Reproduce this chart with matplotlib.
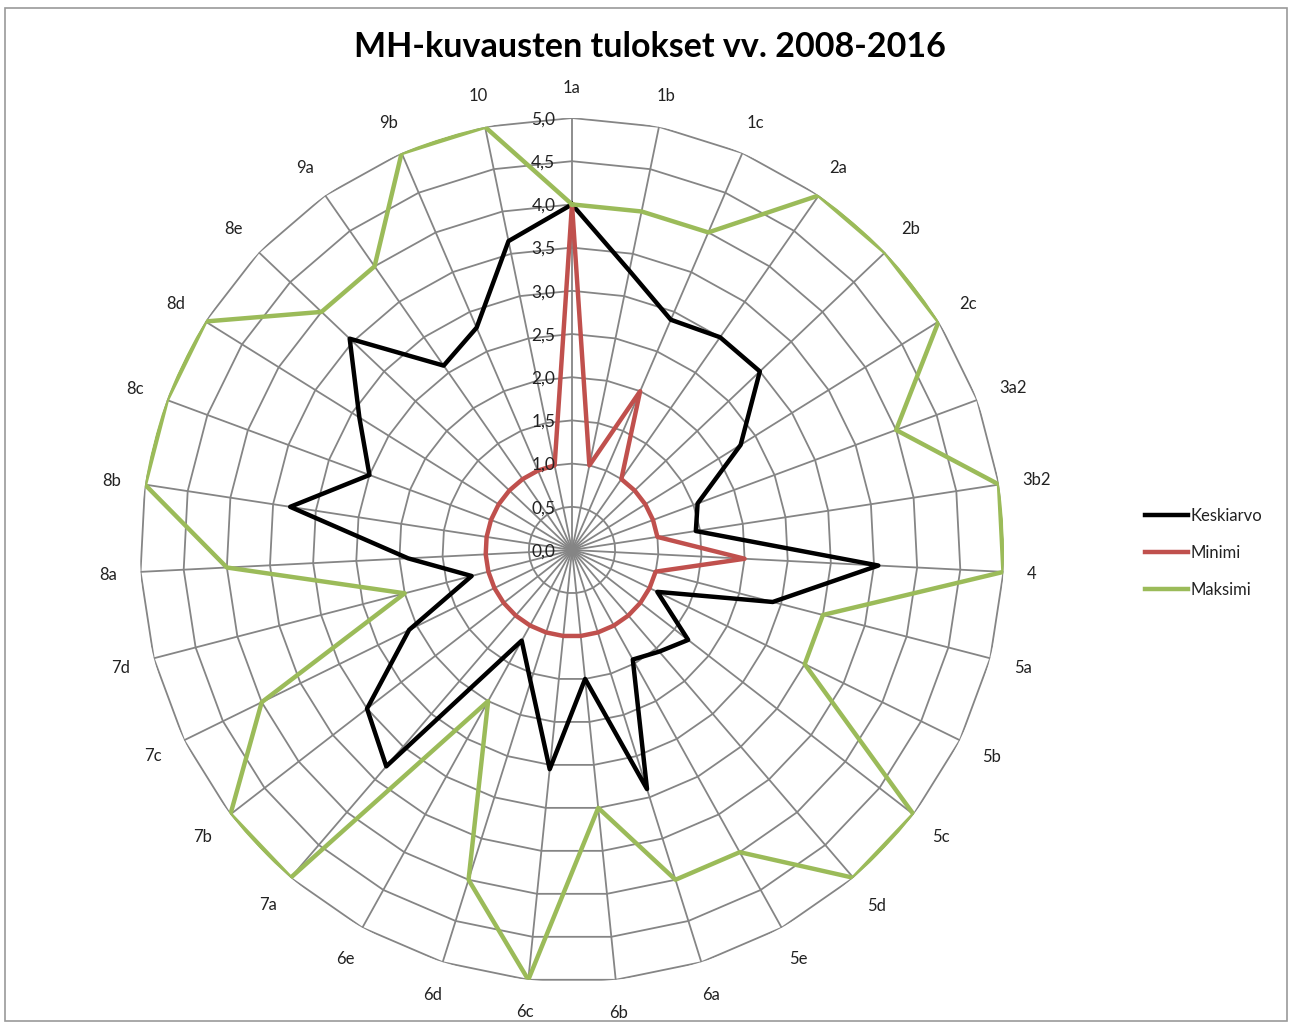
import numpy as np
import matplotlib
matplotlib.use("Agg")
import matplotlib.pyplot as plt
from matplotlib.patches import Rectangle

categories = ["1a", "1b", "1c", "2a", "2b", "2c", "3a2", "3b2", "4", "5a", "5b",
              "5c", "5d", "5e", "6a", "6b", "6c", "6d", "6e", "7a", "7b", "7c",
              "7d", "8a", "8b", "8c", "8d", "8e", "9a", "9b", "10"]
keskiarvo = [4.0, 3.3, 2.9, 3.0, 3.0, 2.3, 1.55, 1.45, 3.55, 2.4, 1.1,
             1.7, 1.55, 1.45, 2.9, 1.5, 2.55, 1.6, 1.2, 3.3, 3.0, 2.1,
             1.2, 1.9, 3.3, 2.5, 2.9, 3.55, 2.6, 2.8, 3.65]
minimi = [4.0, 1.0, 2.0, 1.0, 1.0, 1.0, 1.0, 1.0, 2.0, 1.0, 1.0,
          1.0, 1.0, 1.0, 1.0, 1.0, 1.0, 1.0, 1.0, 1.0, 1.0, 1.0,
          1.0, 1.0, 1.0, 1.0, 1.0, 1.0, 1.0, 1.0, 1.0]
maksimi = [4.0, 4.0, 4.0, 5.0, 5.0, 5.0, 4.0, 5.0, 5.0, 3.0, 3.0,
           5.0, 5.0, 4.0, 4.0, 3.0, 5.0, 4.0, 2.0, 5.0, 5.0, 4.0,
           2.0, 4.0, 5.0, 5.0, 5.0, 4.0, 4.0, 5.0, 5.0]
ring_values = [0.0, 0.5, 1.0, 1.5, 2.0, 2.5, 3.0, 3.5, 4.0, 4.5, 5.0]
ring_labels = ["0,0", "0,5", "1,0", "1,5", "2,0", "2,5", "3,0", "3,5", "4,0", "4,5", "5,0"]
title = "MH-kuvausten tulokset vv. 2008-2016"
series_names = ["Keskiarvo", "Minimi", "Maksimi"]
series_colors = ["#000000", "#C0504D", "#9BBB59"]

plt.rcParams['font.family'] = ['Lato', 'DejaVu Sans']

W, H = 1293, 1027
fig = plt.figure(figsize=(W / 100, H / 100), dpi=100)
fig.patch.set_facecolor("white")
fig.patches.append(Rectangle((5 / W, 6 / H), (W - 11) / W, (H - 14) / H,
                             transform=fig.transFigure, fill=False,
                             edgecolor="#9a9a9a", linewidth=1.2))

cx, cy, R = 572, 550, 432
ax = fig.add_axes([(cx - R) / W, (H - cy - R) / H, 2 * R / W, 2 * R / H],
                  projection="polar")
ax.set_theta_zero_location("N")
ax.set_theta_direction(-1)
ax.set_ylim(0, 5)
ax.grid(False)
ax.set_xticks([])
ax.set_yticks([])
ax.spines["polar"].set_visible(False)
ax.patch.set_alpha(0)

n = len(categories)
theta = np.arange(n) * 2 * np.pi / n
theta_c = np.append(theta, theta[0])

grid_color = "#858585"
for rv in ring_values[1:]:
    ax.plot(theta_c, [rv] * (n + 1), color=grid_color, lw=1.3, zorder=1)
for t in theta:
    ax.plot([t, t], [0, 5], color=grid_color, lw=1.3, zorder=1)

def closed(v):
    return list(v) + [v[0]]

for vals, name, col in zip([keskiarvo, minimi, maksimi], series_names, series_colors):
    ax.plot(theta_c, closed(vals), color=col, lw=3.2, label=name, zorder=3,
            solid_joinstyle="round")

for rv, lab in zip(ring_values, ring_labels):
    ax.annotate(lab, xy=(0, rv), xytext=(-12, -1), textcoords="offset points",
                ha="right", va="center", fontsize=12.5, color="#222222", zorder=4,
                annotation_clip=False)

# category labels: near edge sits a fixed gap outside the outer ring
renderer = fig.canvas.get_renderer()
edge_px = 23
pt_per_px = 72 / fig.dpi
for t, lab in zip(theta, categories):
    a = ax.annotate(lab, xy=(t, 5.0), xytext=(0, 0), textcoords="offset points",
                    ha="center", va="center", fontsize=12, color="#222222",
                    annotation_clip=False)
    bb = a.get_window_extent(renderer)
    s, c = np.sin(t), np.cos(t)
    d = edge_px + 0.5 * bb.width * abs(s) + 0.5 * bb.height * abs(c)
    a.set_position((d * s * pt_per_px, (d * c - 1.0) * pt_per_px))

fig.text(650 / W, 1 - 47 / H, title, ha="center", va="center",
         fontsize=24.5, fontweight="bold", color="black")

leg = fig.legend(loc="upper left", bbox_to_anchor=(1130 / W, 1 - 493 / H),
                 frameon=False, fontsize=12, handlelength=2.6,
                 handletextpad=0.1, labelspacing=1.25)
for txt in leg.get_texts():
    txt.set_color("#222222")

fig.savefig("out.png", dpi=100, facecolor="white")
